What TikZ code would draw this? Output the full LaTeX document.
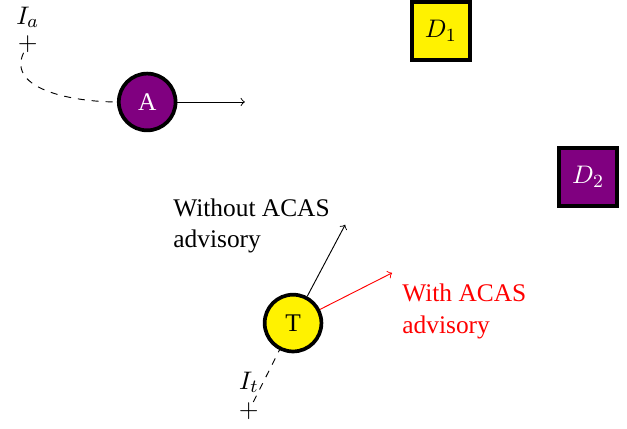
\documentclass[tikz,border=0pt,11pt]{standalone}
\usepackage{fontspec}
\setmainfont{Liberation Serif}
\usepackage{tikz}
\usetikzlibrary{positioning}
\definecolor{acaspurple}{RGB}{128,0,128}

\begin{document}
\begin{tikzpicture}[
    plane/.style={circle, draw=black, ultra thick, minimum size=0.86cm, inner sep=0pt},
    dest/.style={rectangle, draw=black, ultra thick, minimum size=0.88cm, inner sep=0pt},
    initpt/.style={inner sep=0pt}
  ]
  \useasboundingbox (0,0) rectangle (9.5,6.485);

  % intruder A
  \node[initpt] (Ia) at (0.42,5.82) {$+$};
  \node[above=0.1cm of Ia, inner sep=0pt] (Ialabel) {$I_a$};
  \node[plane, fill=acaspurple, text=white] (A) at (2.23,4.94) {A};
  \coordinate (Aend) at (3.71,4.94);
  \draw[dashed] (Ia) to[out=-115, in=180] (A.west);
  \draw[->] (A.east) -- (Aend);

  % destinations
  \node[dest, fill=yellow] (D1) at (6.68,6.02) {$D_1$};
  \node[dest, fill=acaspurple, text=white] (D2) at (8.91,3.80) {$D_2$};

  % own aircraft T
  \node[initpt] (It) at (3.77,0.26) {$+$};
  \node[above=0.13cm of It, inner sep=0pt] (Itlabel) {$I_t$};
  \node[plane, fill=yellow] (T) at (4.44,1.59) {T};
  \coordinate (Tfree) at (5.23,3.08);
  \coordinate (Tacas) at (5.94,2.35);
  \draw[dashed] (It) -- (T);
  \draw[->] (T) -- (Tfree);
  \draw[->, red] (T) -- (Tacas);
  \node[anchor=west, align=left, inner sep=0pt] (nofree) at (2.62,3.06) {Without ACAS\\advisory};
  \node[anchor=west, align=left, inner sep=0pt, text=red] (withacas) at (6.09,1.77) {With ACAS\\advisory};
\end{tikzpicture}
\end{document}
